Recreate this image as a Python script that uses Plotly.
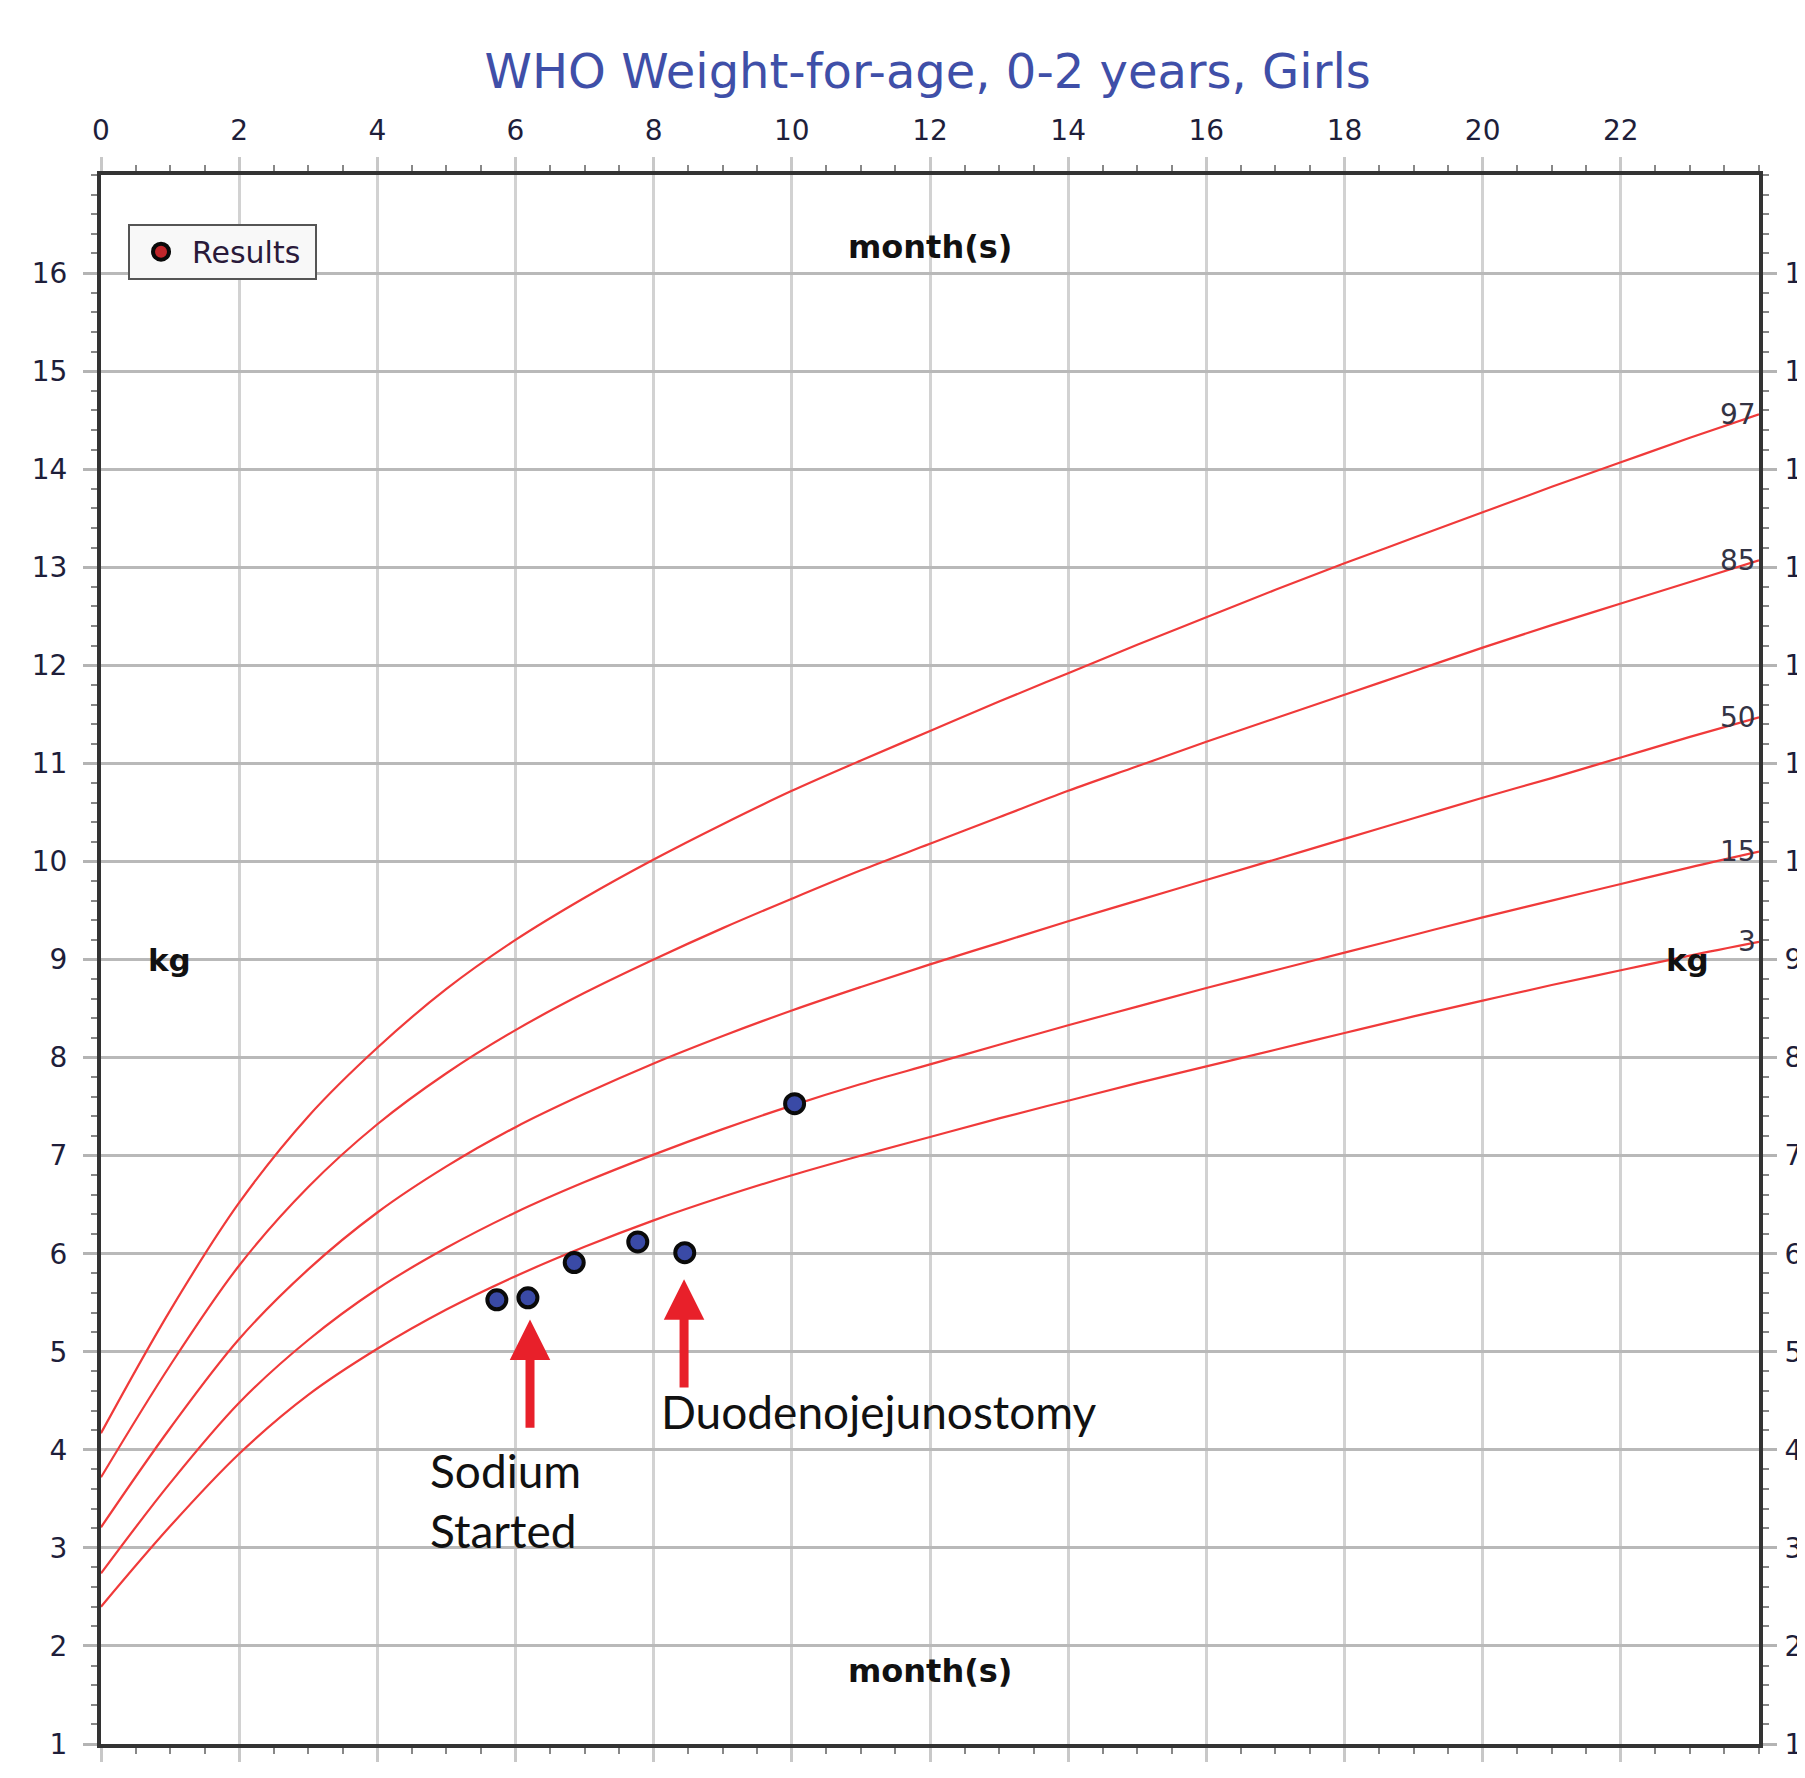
import plotly.graph_objects as go

# WHO girls weight-for-age percentile curves (kg), monthly
ages = list(range(0, 25))
p3 = [2.40, 3.22, 3.96, 4.56, 5.03, 5.43, 5.77, 6.07, 6.34, 6.58, 6.80, 7.00, 7.19,
      7.38, 7.56, 7.74, 7.91, 8.08, 8.25, 8.42, 8.58, 8.74, 8.89, 9.04, 9.18]
p15 = [2.74, 3.66, 4.48, 5.12, 5.64, 6.06, 6.42, 6.73, 7.01, 7.27, 7.51, 7.73, 7.93,
       8.13, 8.33, 8.52, 8.71, 8.89, 9.07, 9.25, 9.43, 9.60, 9.77, 9.94, 10.10]
p50 = [3.21, 4.22, 5.13, 5.84, 6.42, 6.89, 7.29, 7.63, 7.94, 8.22, 8.48, 8.72, 8.95,
       9.17, 9.39, 9.60, 9.81, 10.02, 10.23, 10.44, 10.65, 10.85, 11.06, 11.27, 11.47]
p85 = [3.72, 4.86, 5.88, 6.68, 7.32, 7.84, 8.28, 8.66, 9.00, 9.32, 9.62, 9.91, 10.18,
       10.45, 10.72, 10.97, 11.22, 11.46, 11.70, 11.94, 12.18, 12.41, 12.63, 12.85, 13.07]
p97 = [4.17, 5.42, 6.52, 7.40, 8.10, 8.70, 9.20, 9.63, 10.02, 10.38, 10.72, 11.03, 11.33,
       11.63, 11.92, 12.21, 12.49, 12.77, 13.04, 13.30, 13.56, 13.82, 14.07, 14.32, 14.56]
percentile_labels = ["3", "15", "50", "85", "97"]

# Patient results
result_age = [5.73, 6.18, 6.85, 7.77, 8.45, 10.04]
result_weight = [5.53, 5.55, 5.91, 6.12, 6.01, 7.53]

# Event arrows
event_labels = ["Sodium<br>Started", "Duodenojejunostomy"]
event_x = [6.21, 8.44]
event_tail = [4.21, 4.62]
event_tip = [5.33, 5.74]
event_text_x = [4.74, 8.07]
event_text_y = [3.48, 4.39]

x_ticks = list(range(0, 24, 2))
y_ticks = list(range(1, 17))

RED = "#f03a3a"
AXIS = "#333333"
TICKFONT = dict(family="DejaVu Sans", size=28, color="#1e1e3a")

fig = go.Figure()

for lab, vals in zip(percentile_labels, [p3, p15, p50, p85, p97]):
    fig.add_trace(go.Scatter(x=ages, y=vals, mode="lines",
                             line=dict(color=RED, width=2.2, shape="spline", smoothing=1.0,
                                       simplify=False),
                             showlegend=False, hoverinfo="skip"))
    fig.add_annotation(x=24, y=vals[-1], text=lab, showarrow=False, xanchor="right",
                       yanchor="middle", xshift=-1,
                       font=dict(family="DejaVu Sans", size=28, color="#333344"))

fig.add_trace(go.Scatter(x=result_age, y=result_weight, mode="markers",
                         marker=dict(size=19, color="#3a4aa6", line=dict(color="#0a0a0a", width=4)),
                         showlegend=False))
# legend-only entry
fig.add_trace(go.Scatter(x=[None], y=[None], mode="markers", name="Results\u00a0",
                         marker=dict(size=18, color="#c0262b", line=dict(color="#0a0a0a", width=4)),
                         showlegend=True))

for lab, x, t0, t1, tx, ty in zip(event_labels, event_x, event_tail, event_tip, event_text_x, event_text_y):
    fig.add_annotation(x=x, y=t1, ax=x, ay=t0, xref="x", yref="y", axref="x", ayref="y",
                       showarrow=True, arrowhead=2, arrowsize=0.9, arrowwidth=9,
                       arrowcolor="#e8202a", text="")
    fig.add_annotation(x=tx, y=ty, text=lab, showarrow=False, xanchor="left", yanchor="middle",
                       align="left",
                       font=dict(family="Lato", size=46, color="#111111"))

# axis titles inside plot
for (x, y, t, s) in [(12, 16.27, "month(s)", 32), (12, 1.74, "month(s)", 32),
                     (0.99, 9.0, "kg", 31), (22.97, 9.0, "kg", 31)]:
    fig.add_annotation(x=x, y=y, text="<b>" + t + "</b>", showarrow=False,
                       font=dict(family="DejaVu Sans", size=s, color="#111111"))

common_x = dict(range=[0, 24], tickvals=x_ticks, ticks="outside", ticklen=14, tickwidth=3,
                tickcolor="#c8c8c8", showline=True, linecolor=AXIS, linewidth=4,
                tickfont=TICKFONT, automargin=False, zeroline=False, ticklabelstandoff=6,
                minor=dict(dtick=0.5, ticks="outside", ticklen=6, tickwidth=2, tickcolor="#888888",
                           showgrid=False))
common_y = dict(range=[1, 17], tickvals=y_ticks, ticks="outside", ticklen=14, tickwidth=3,
                tickcolor="#b4b4b4", showline=True, linecolor=AXIS, linewidth=4,
                tickfont=TICKFONT, automargin=False, zeroline=False,
                minor=dict(dtick=0.2, ticks="outside", ticklen=6, tickwidth=2, tickcolor="#888888",
                           showgrid=False))

fig.update_layout(
    width=1805, height=1778,
    template="none",
    paper_bgcolor="white", plot_bgcolor="white",
    margin=dict(l=93, r=54, t=167, b=42),
    title=dict(text="WHO Weight-for-age, 0-2 years, Girls", x=0.5095, xanchor="center",
               y=1 - 63 / 1778, yanchor="middle",
               font=dict(family="DejaVu Sans", size=48, color="#3f4fa8")),
    xaxis=dict(**common_x, showgrid=True, gridcolor="#d2d2d2", gridwidth=3),
    xaxis2=dict(**common_x, overlaying="x", side="top", matches="x", showgrid=False),
    yaxis=dict(**common_y, showgrid=True, gridcolor="#b9b9b9", gridwidth=3, ticklabelstandoff=10),
    yaxis2=dict(**common_y, overlaying="y", side="right", matches="y", showgrid=False, ticklabelstandoff=2),
    legend=dict(x=0.0163, y=0.969, xanchor="left", yanchor="top",
                bgcolor="#f8f8f8", bordercolor="#555555", borderwidth=2,
                font=dict(family="DejaVu Sans", size=30, color="#2a1a3a"),
                itemwidth=52),
    showlegend=True,
)
# dummy trace to activate secondary axes
fig.add_trace(go.Scatter(x=[None], y=[None], xaxis="x2", yaxis="y2", showlegend=False))

fig.write_html("out.html")
